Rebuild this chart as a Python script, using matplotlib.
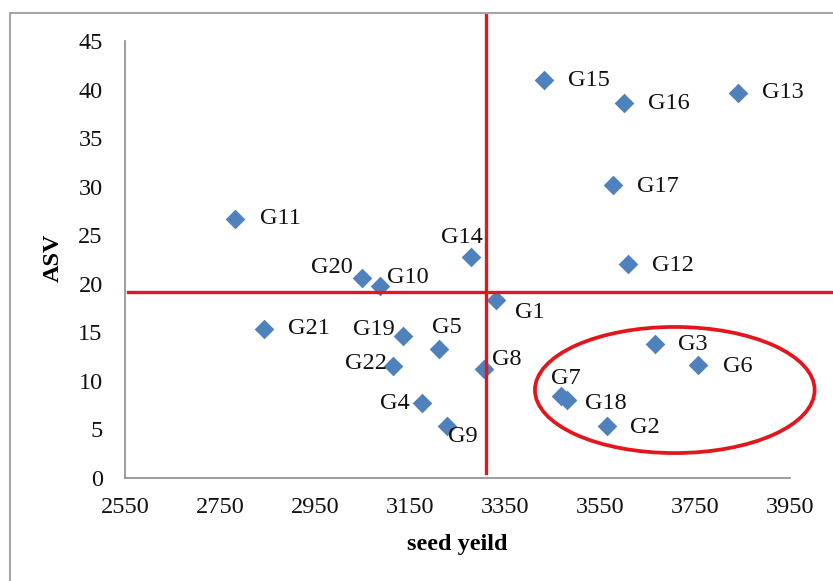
import matplotlib.pyplot as plt
from matplotlib.patches import Ellipse
from matplotlib.lines import Line2D

plt.rcParams['font.family'] = 'serif'
plt.rcParams['font.serif'] = ['Liberation Serif', 'DejaVu Serif']

# data
genotypes = ['G1', 'G2', 'G3', 'G4', 'G5', 'G6', 'G7', 'G8', 'G9', 'G10', 'G11',
             'G12', 'G13', 'G14', 'G15', 'G16', 'G17', 'G18', 'G19', 'G20', 'G21', 'G22']
seed_yield = [3331, 3566, 3666, 3175, 3211, 3757, 3468, 3307, 3229, 3087, 2782,
              3610, 3841, 3278, 3432, 3601, 3577, 3480, 3136, 3050, 2843, 3115]
asv = [18.3, 5.4, 13.8, 7.7, 13.3, 11.65, 8.45, 11.2, 5.4, 19.8, 26.7,
       22.1, 39.7, 22.75, 41.0, 38.7, 30.2, 8.0, 14.6, 20.6, 15.4, 11.5]
mean_yield = 3310   # vertical red line
mean_asv = 19.2     # horizontal red line
x_ticks = [2550, 2750, 2950, 3150, 3350, 3550, 3750, 3950]
y_ticks = [0, 5, 10, 15, 20, 25, 30, 35, 40, 45]

# label placement (offset in pixels, horizontal alignment)
label_pos = {
    'G1': (19, -12, 'left'), 'G2': (23, -2, 'left'), 'G3': (23, 0, 'left'),
    'G4': (-12, 0, 'right'), 'G5': (8, 21, 'center'), 'G6': (25, -2, 'left'),
    'G7': (5, 18, 'center'), 'G8': (8, 10, 'left'), 'G9': (1, -11, 'left'),
    'G10': (7, 8, 'left'), 'G11': (25, 0, 'left'), 'G12': (24, -2, 'left'),
    'G13': (24, 0, 'left'), 'G14': (-9, 20, 'center'), 'G15': (24, 0, 'left'),
    'G16': (24, -1, 'left'), 'G17': (24, -1, 'left'), 'G18': (18, -3, 'left'),
    'G19': (-8, 7, 'right'), 'G20': (-10, 11, 'right'), 'G21': (24, 0, 'left'),
    'G22': (-6, 3, 'right'),
}

fig = plt.figure(figsize=(8.33, 5.81), dpi=100)
ax = fig.add_axes([0.150, 0.1773, 0.798, 0.7513])

ax.scatter(seed_yield, asv, marker='D', s=100, color='#4F81BD', linewidths=0, zorder=2)

for g, x, y in zip(genotypes, seed_yield, asv):
    dx, dy, ha = label_pos[g]
    ax.annotate(g, (x, y), xytext=(dx * 0.72, dy * 0.72), textcoords='offset points',
                ha=ha, va='center', fontsize=17.5, color='#111111')

red = '#E3161E'
ax.plot([mean_yield, mean_yield], [0.5, 47.7], color=red, lw=2.4, clip_on=False, zorder=3)
ax.plot([2556, 4040], [mean_asv, mean_asv], color=red, lw=2.4, clip_on=False, zorder=3)
ax.add_patch(Ellipse((3708, 9.07), 589, 13.0, fill=False, edgecolor=red, lw=2.7,
                     clip_on=False, zorder=3))

ax.set_xlim(2550, 3950)
ax.set_ylim(0, 45)
ax.set_xticks(x_ticks)
ax.set_yticks(y_ticks)
ax.tick_params(length=0, labelsize=17.5, colors='#111111')
ax.tick_params(axis='y', pad=16)
ax.tick_params(axis='x', pad=14)
for s in ['top', 'right']:
    ax.spines[s].set_visible(False)
for s in ['left', 'bottom']:
    ax.spines[s].set_color('#8C8C8C')
    ax.spines[s].set_linewidth(1.2)

ax.set_xlabel('seed yeild', fontsize=17.5, fontweight='bold', va='center')
ax.xaxis.set_label_coords(0.5, -0.153)
ax.set_ylabel('ASV', fontsize=17.5, fontweight='bold', va='center')
ax.yaxis.set_label_coords(-0.108, 0.504)

# grey frame of the chart area
fig.add_artist(Line2D([0.012, 1.0], [0.9776, 0.9776], color='#A6A6A6', lw=1.5))
fig.add_artist(Line2D([0.012, 0.012], [0.0, 0.9776], color='#A6A6A6', lw=1.5))

fig.savefig('out.png', dpi=100)
